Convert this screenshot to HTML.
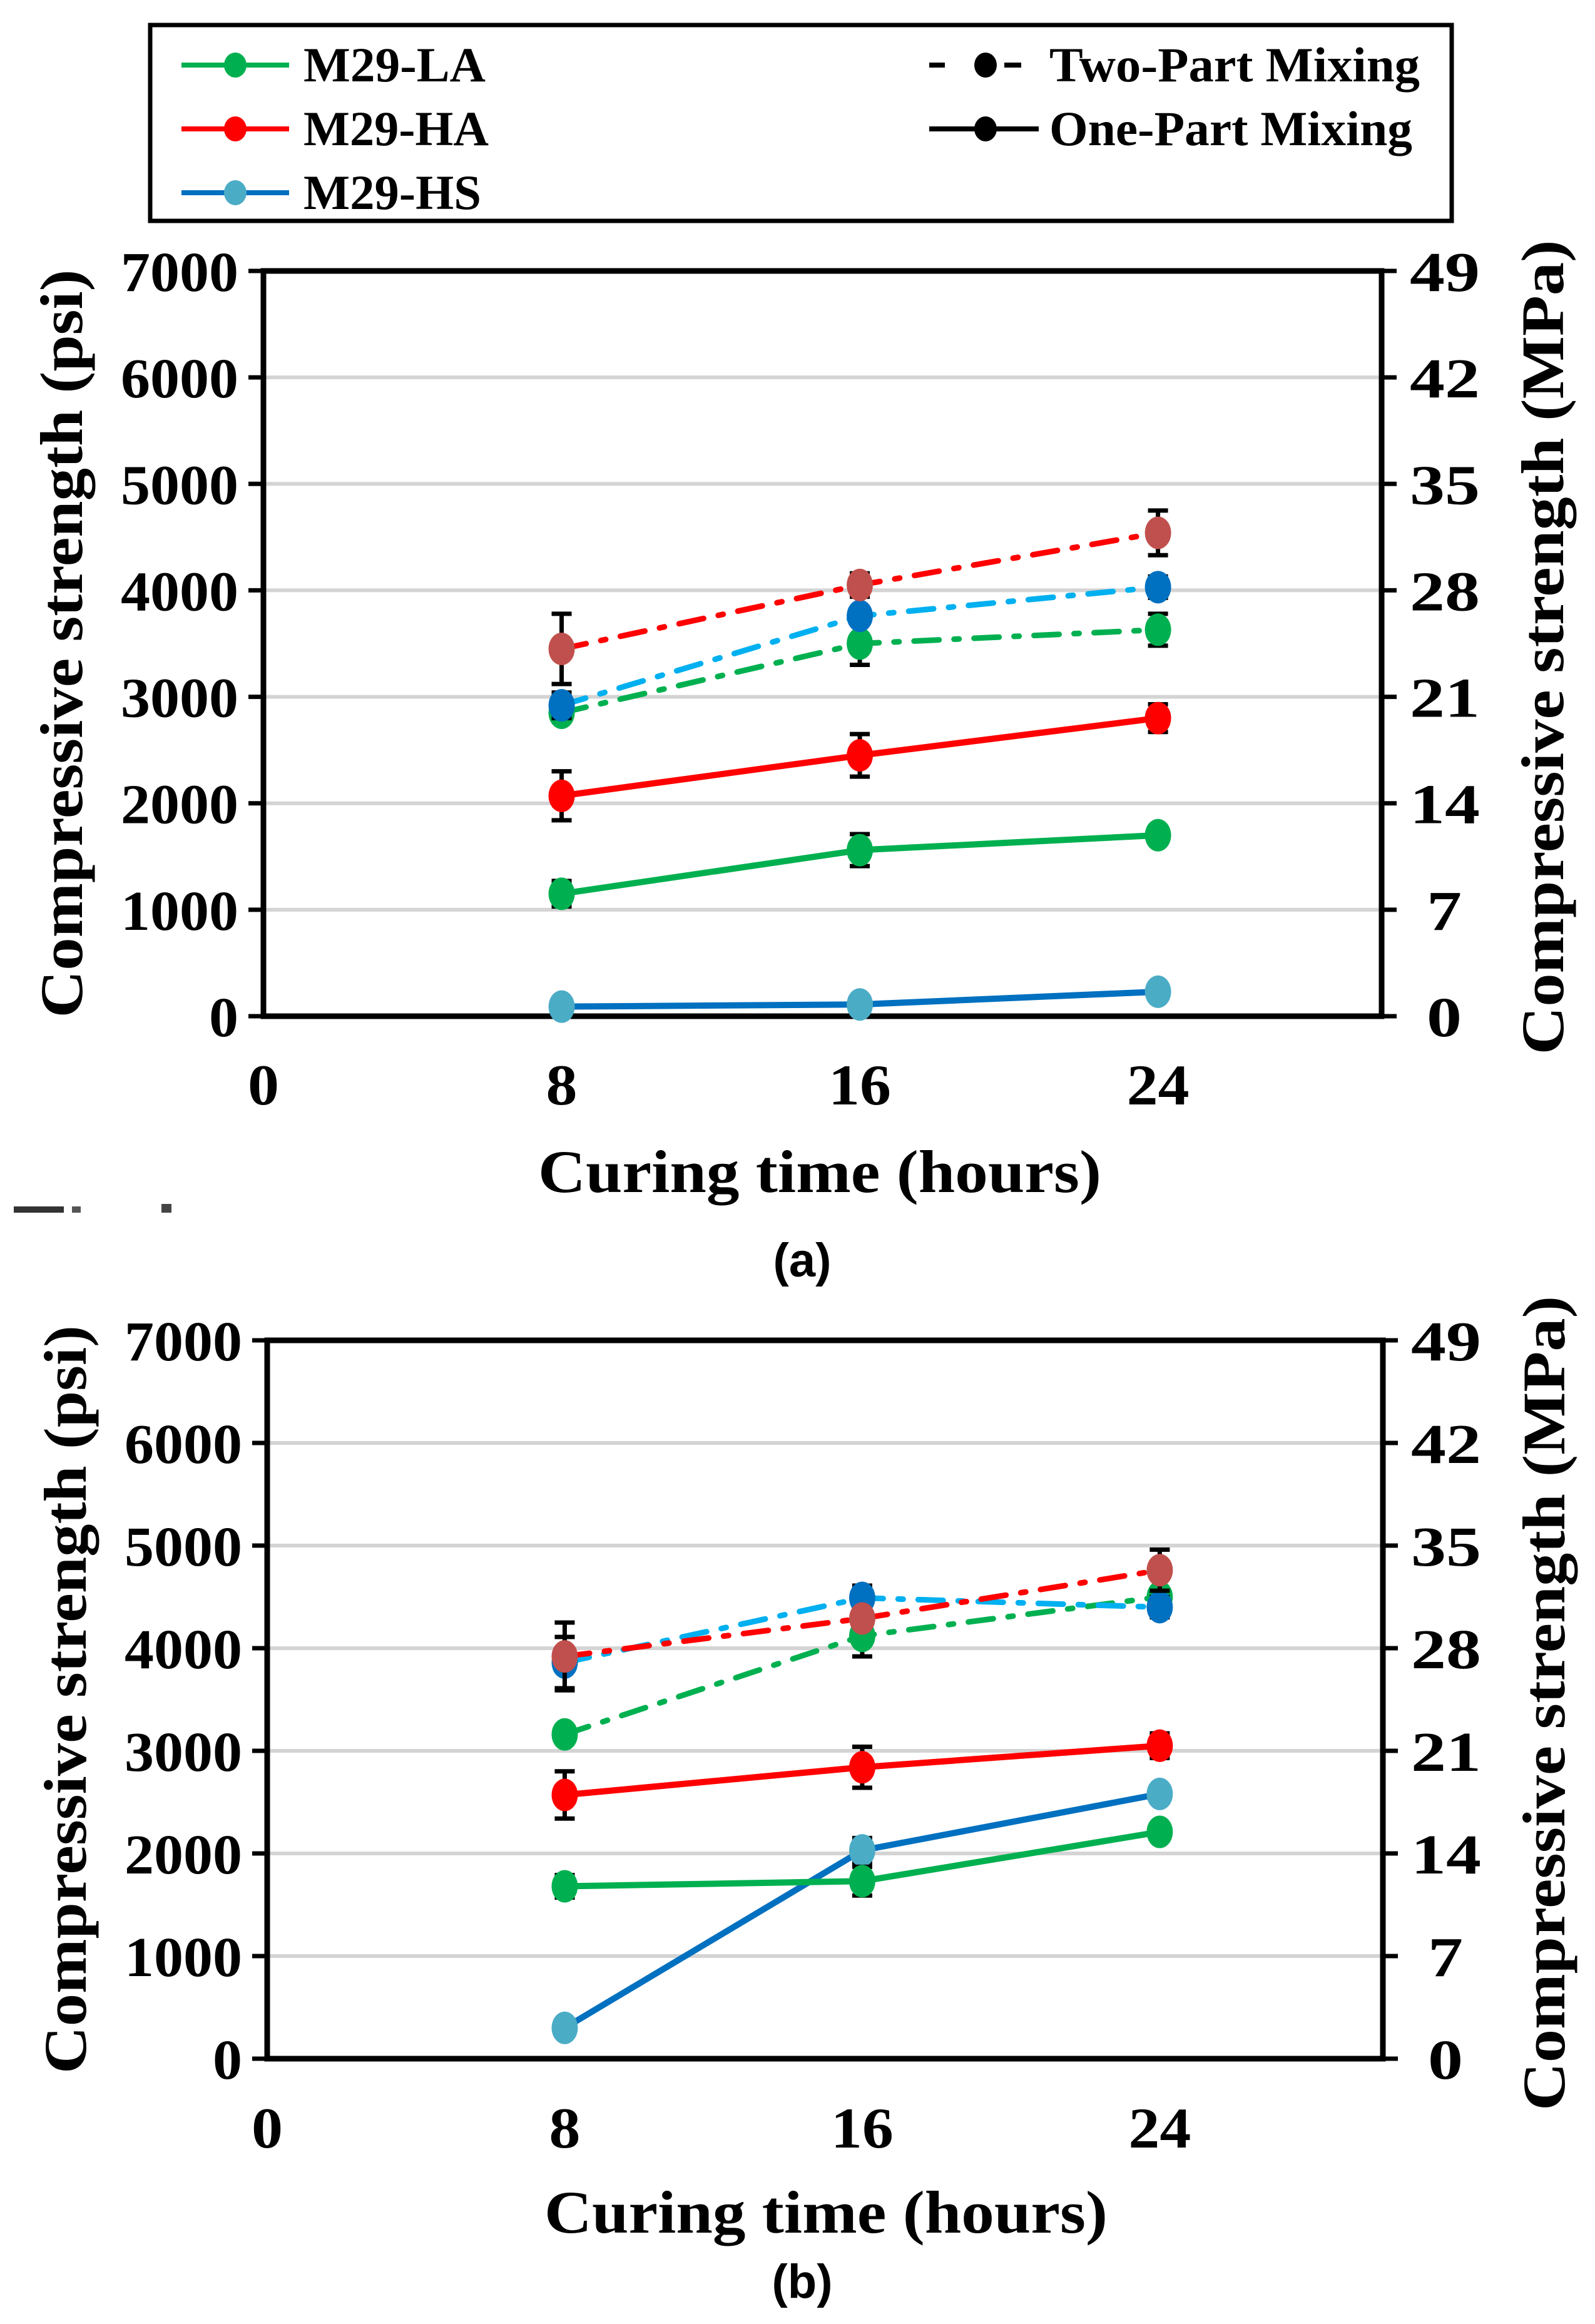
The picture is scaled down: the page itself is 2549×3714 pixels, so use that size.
<!DOCTYPE html>
<html><head><meta charset="utf-8">
<style>
html,body{margin:0;padding:0;background:#fff;}
svg{display:block;}
text{font-family:"Liberation Serif",serif;font-weight:bold;fill:#000;}
</style></head>
<body>
<svg id="fig" width="2549" height="3714" viewBox="0 0 2549 3714" xmlns="http://www.w3.org/2000/svg">
  <g>
    <rect x="240" y="40" width="2080" height="313" fill="#fff" stroke="#000" stroke-width="7"/>
    <g>
      <line x1="290" y1="104" x2="462" y2="104" stroke="#00b050" stroke-width="8"/>
      <ellipse cx="376" cy="104" rx="18" ry="20" fill="#00b050"/>
      <text x="485" y="130" font-size="78" textLength="291" lengthAdjust="spacingAndGlyphs">M29-LA</text>
    </g>
    <g>
      <line x1="290" y1="206" x2="462" y2="206" stroke="#ff0000" stroke-width="8"/>
      <ellipse cx="376" cy="206" rx="18" ry="20" fill="#ff0000"/>
      <text x="485" y="232" font-size="78" textLength="296" lengthAdjust="spacingAndGlyphs">M29-HA</text>
    </g>
    <g>
      <line x1="290" y1="308" x2="462" y2="308" stroke="#0070c0" stroke-width="8"/>
      <ellipse cx="376" cy="308" rx="18" ry="20" fill="#4bacc6"/>
      <text x="485" y="334" font-size="78" textLength="284" lengthAdjust="spacingAndGlyphs">M29-HS</text>
    </g>
    <g>
      <line x1="1485" y1="104" x2="1510" y2="104" stroke="#000" stroke-width="8"/>
      <line x1="1605" y1="104" x2="1632" y2="104" stroke="#000" stroke-width="8"/>
      <ellipse cx="1575" cy="104" rx="18" ry="20" fill="#000"/>
      <text x="1677" y="130" font-size="78" textLength="592" lengthAdjust="spacingAndGlyphs">Two-Part Mixing</text>
    </g>
    <g>
      <line x1="1485" y1="206" x2="1660" y2="206" stroke="#000" stroke-width="8"/>
      <ellipse cx="1575" cy="206" rx="18" ry="20" fill="#000"/>
      <text x="1677" y="232" font-size="78" textLength="580" lengthAdjust="spacingAndGlyphs">One-Part Mixing</text>
    </g>
  </g>
  <g id="chartA"></g>
  <g id="chartB"></g>
  <g>
    <rect x="22" y="1928" width="80" height="10" fill="#333"/>
    <rect x="115" y="1928" width="14" height="10" fill="#555"/>
    <rect x="258" y="1924" width="16" height="14" fill="#444"/>
  </g>
  <text x="1282" y="2040" font-size="76" text-anchor="middle" style="font-family:'Liberation Sans',sans-serif">(a)</text>
  <text x="1282" y="3672" font-size="76" text-anchor="middle" style="font-family:'Liberation Sans',sans-serif">(b)</text>
</svg>
<script>
const NS="http://www.w3.org/2000/svg";
const categories=[8,16,24];
const yTicks=[0,1000,2000,3000,4000,5000,6000,7000];
const yRightTicks=[0,7,14,21,28,35,42,49];
const xTicks=[0,8,16,24];
// Chart (a)
const aLAone=[1150,1560,1700], aLAoneErr=[120,150,0];
const aHAone=[2070,2450,2800], aHAoneErr=[230,200,130];
const aHSone=[90,110,230], aHSoneErr=[0,0,0];
const aLAtwo=[2850,3500,3630], aLAtwoErr=[0,200,150];
const aHAtwo=[3450,4050,4540], aHAtwoErr=[330,110,210];
const aHStwo=[2920,3760,4030], aHStwoErr=[120,0,100];
// Chart (b)
const bLAone=[1680,1730,2210], bLAoneErr=[110,140,0];
const bHAone=[2570,2840,3050], bHAoneErr=[230,200,120];
const bHSone=[300,2030,2580], bHSoneErr=[0,120,0];
const bLAtwo=[3160,4120,4500], bLAtwoErr=[0,200,0];
const bHAtwo=[3920,4290,4760], bHAtwoErr=[330,0,200];
const bHStwo=[3860,4490,4400], bHStwoErr=[250,120,100];

function mk(parent,tag,attrs){const e=document.createElementNS(NS,tag);for(const k in attrs)e.setAttribute(k,attrs[k]);parent.appendChild(e);return e;}
function botOff(s){return s.length===1?72:45;}

function drawChart(g,L,R,T,B,series,xlabY,xtitleY,xtitleX){
  const X=v=>L+(v/30)*(R-L);
  const Y=v=>B-(v/7000)*(B-T);
  yTicks.forEach((t,i)=>{
    if(t>0&&t<7000){const gl=mk(g,'line',{x1:L,x2:R,y1:Y(t),y2:Y(t),stroke:'#d4d4d4','stroke-width':6});
      
      }
    const tk=mk(g,'line',{x1:L-24,x2:L,y1:Y(t),y2:Y(t),stroke:'#000','stroke-width':7});
    
    
    const s=String(t);
    const lb=mk(g,'text',{x:L-40-47*s.length,y:Y(t)+32,'font-size':90,textLength:47*s.length,lengthAdjust:'spacingAndGlyphs'});lb.textContent=s;
    
    
    const tr=mk(g,'line',{x1:R,x2:R+24,y1:Y(t),y2:Y(t),stroke:'#000','stroke-width':7});
    
    
    const s2=String(yRightTicks[i]);
    const lr=mk(g,'text',{x:R+botOff(s2),y:Y(t)+32,'font-size':90,textLength:56*s2.length,lengthAdjust:'spacingAndGlyphs'});lr.textContent=s2;
    
    
  });
  const fr=mk(g,'rect',{x:L,y:T,width:R-L,height:B-T,fill:'none',stroke:'#000','stroke-width':9});
  
  
  xTicks.forEach(t=>{const s=String(t);const lb=mk(g,'text',{x:X(t)-25*s.length,y:xlabY,'font-size':92,textLength:50*s.length,lengthAdjust:'spacingAndGlyphs'});lb.textContent=s;
    
    });
  const xt=mk(g,'text',{x:xtitleX-450,y:xtitleY,'font-size':96,textLength:900,lengthAdjust:'spacingAndGlyphs'});xt.textContent='Curing time (hours)';
  
  
  const cy=(T+B)/2;
  const yt=mk(g,'text',{x:-598,y:0,'font-size':96,textLength:1196,lengthAdjust:'spacingAndGlyphs','transform':`translate(${L-290},${cy}) rotate(-90)`});yt.textContent='Compressive  strength (psi)';
  
  
  const yt2=mk(g,'text',{x:-651,y:0,'font-size':96,textLength:1302,lengthAdjust:'spacingAndGlyphs','transform':`translate(${R+290},${cy+6}) rotate(-90)`});yt2.textContent='Compressive  strength (MPa)';
  
  
  series.forEach(s=>{
    const sg=mk(g,'g',{});
    
    
    const pts=categories.map((c,i)=>X(c)+','+Y(s.v[i])).join(' ');
    const pl=mk(sg,'polyline',{points:pts,fill:'none',stroke:s.line,'stroke-width':s.dash?9:10,'stroke-dasharray':s.dash?'40,24,8,24':'none','stroke-linecap':'round'});
    
    
    categories.forEach((c,i)=>{
      const e=s.e[i];
      if(e>0){const eb=mk(sg,'path',{d:`M${X(c)},${Y(s.v[i]+e)}V${Y(s.v[i]-e)}M${X(c)-16},${Y(s.v[i]+e)}H${X(c)+16}M${X(c)-16},${Y(s.v[i]-e)}H${X(c)+16}`,stroke:'#000','stroke-width':7,fill:'none'});
        
        }
      const m=mk(sg,'ellipse',{cx:X(c),cy:Y(s.v[i]),rx:21,ry:26,fill:s.dot});
      
      
    });
  });
}
drawChart(document.getElementById('chartA'),421,2208,433,1624,[
 {name:'m29-hs-one-part',v:aHSone,e:aHSoneErr,line:'#0070c0',dot:'#4bacc6'},
 {name:'m29-la-one-part',v:aLAone,e:aLAoneErr,line:'#00b050',dot:'#00b050'},
 {name:'m29-ha-one-part',v:aHAone,e:aHAoneErr,line:'#ff0000',dot:'#ff0000'},
 {name:'m29-la-two-part',v:aLAtwo,e:aLAtwoErr,line:'#00b050',dot:'#00b050',dash:1},
 {name:'m29-hs-two-part',v:aHStwo,e:aHStwoErr,line:'#00b0f0',dot:'#0070c0',dash:1},
 {name:'m29-ha-two-part',v:aHAtwo,e:aHAtwoErr,line:'#ff0000',dot:'#c0504d',dash:1}
],1765,1905,1310);
drawChart(document.getElementById('chartB'),427,2210,2142,3290,[
 {name:'m29-hs-one-part',v:bHSone,e:bHSoneErr,line:'#0070c0',dot:'#4bacc6'},
 {name:'m29-la-one-part',v:bLAone,e:bLAoneErr,line:'#00b050',dot:'#00b050'},
 {name:'m29-ha-one-part',v:bHAone,e:bHAoneErr,line:'#ff0000',dot:'#ff0000'},
 {name:'m29-la-two-part',v:bLAtwo,e:bLAtwoErr,line:'#00b050',dot:'#00b050',dash:1},
 {name:'m29-hs-two-part',v:bHStwo,e:bHStwoErr,line:'#00b0f0',dot:'#0070c0',dash:1},
 {name:'m29-ha-two-part',v:bHAtwo,e:bHAtwoErr,line:'#ff0000',dot:'#c0504d',dash:1}
],3432,3568,1320);
</script>
</body></html>
